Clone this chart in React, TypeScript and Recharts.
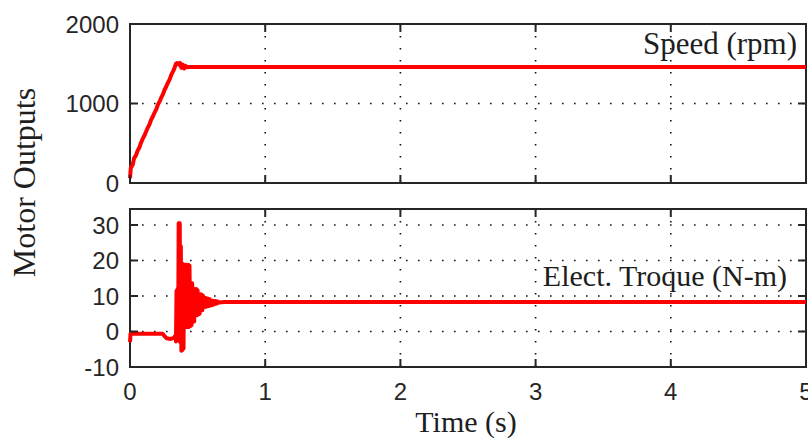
import { LineChart, Line, XAxis, YAxis, CartesianGrid, ReferenceArea } from 'recharts';

const timeTicks = [0, 1, 2, 3, 4, 5];
const speedTicks = [0, 1000, 2000];
const torqueTicks = [-10, 0, 10, 20, 30];

// speed (rpm)
const speedTime = [0, 0.006, 0.02, 0.03, 0.045, 0.055, 0.07, 0.08, 0.095, 0.105, 0.12, 0.13, 0.145, 0.155, 0.17, 0.18, 0.195, 0.205, 0.22, 0.23, 0.245, 0.255, 0.27, 0.28, 0.295, 0.305, 0.32, 0.33, 0.34, 0.35, 0.36, 0.37, 0.38, 0.39, 0.4, 0.41, 0.42, 0.44, 5];
const speedRpm = [60, 190, 230, 310, 350, 400, 450, 500, 560, 590, 650, 690, 740, 790, 840, 880, 930, 980, 1030, 1070, 1120, 1170, 1220, 1260, 1310, 1360, 1410, 1450, 1500, 1510, 1490, 1510, 1450, 1490, 1440, 1475, 1455, 1460, 1460];

// electromagnetic torque (N-m)
const torqueTime = [0, 0.004, 0.24, 0.255, 0.27, 0.3, 0.325, 0.335, 0.34, 0.344, 0.348, 0.352, 0.356, 0.36, 0.364, 0.368, 0.372, 0.376, 0.38, 0.384, 0.388, 0.392, 0.396, 0.4, 0.405, 0.41, 0.415, 0.42, 0.425, 0.43, 0.435, 0.44, 0.445, 0.45, 0.455, 0.46, 0.465, 0.47, 0.475, 0.48, 0.485, 0.49, 0.495, 0.5, 0.505, 0.51, 0.515, 0.52, 0.525, 0.53, 0.535, 0.54, 0.545, 0.55, 0.555, 0.56, 0.565, 0.57, 0.575, 0.58, 0.585, 0.59, 0.595, 0.6, 0.605, 0.61, 0.615, 0.62, 0.625, 0.63, 0.635, 0.64, 0.645, 0.65, 0.655, 0.7, 5];
const torqueNm = [-3, -0.6, -0.6, -1.3, -1.9, -2.1, -1.8, -1.2, -2.8, 11.5, -2.6, 12, -2, 30.5, 0, 30.5, -3, 24, -5.4, 19, -5.2, 19, -4.8, 18.8, 1.3, 18.8, 1.3, 18.8, 1.3, 18.8, 1.3, 18.6, 1.5, 13.6, 1.8, 13.6, 2.8, 12, 2.8, 12, 4.5, 12, 4.6, 11.6, 4.8, 10.5, 5, 10.5, 5.9, 10.4, 6, 10.1, 6.9, 9.5, 6.9, 9.4, 7, 9.3, 7.1, 9.2, 7.2, 9.1, 7.3, 8.7, 7.4, 8.7, 7.5, 8.6, 7.7, 8.6, 7.8, 8.5, 7.9, 8.4, 8.2, 8.3, 8.3];

const speedData = speedTime.map((t, i) => ({ t, v: speedRpm[i] }));
const torqueData = torqueTime.map((t, i) => ({ t, v: torqueNm[i] }));

const PLOT_W = 676;
const TICK_LEN = 8;
const AXIS_COLOR = '#262626';
const SANS = '"Liberation Sans", Arial, sans-serif';
const SERIF = '"Liberation Serif", "Times New Roman", serif';

const XTick = ({ x, y, payload, plotH, showLabel }: any) => (
  <g>
    <line x1={x} y1={y} x2={x} y2={y - TICK_LEN} stroke={AXIS_COLOR} strokeWidth={2} />
    <line x1={x} y1={y - plotH} x2={x} y2={y - plotH + TICK_LEN} stroke={AXIS_COLOR} strokeWidth={2} />
    {showLabel && (
      <text x={x} y={y + 33} textAnchor="middle" fontFamily={SANS} fontSize={24} fill="#262626">
        {payload.value}
      </text>
    )}
  </g>
);

const YTick = ({ x, y, payload }: any) => (
  <g>
    <line x1={x} y1={y} x2={x + TICK_LEN} y2={y} stroke={AXIS_COLOR} strokeWidth={2} />
    <line x1={x + PLOT_W} y1={y} x2={x + PLOT_W - TICK_LEN} y2={y} stroke={AXIS_COLOR} strokeWidth={2} />
    <text x={x - 11} y={y} dy="0.36em" textAnchor="end" fontFamily={SANS} fontSize={24} fill="#262626">
      {payload.value}
    </text>
  </g>
);

const gridProps = { stroke: '#111', strokeDasharray: '1.6 10.4', strokeWidth: 1.6 };

export default function App() {
  return (
    <div style={{ position: 'absolute', left: 0, top: 0, width: 808, height: 442, overflow: 'hidden', background: '#fff' }}>
      <div style={{ position: 'absolute', left: 0, top: 0 }}>
        <LineChart width={808} height={202} data={speedData} margin={{ top: 24, right: 2, bottom: 18, left: 0 }}>
          <CartesianGrid {...gridProps} />
          <XAxis dataKey="t" type="number" domain={[0, 5]} ticks={timeTicks} interval={0} height={1}
            axisLine={false} tickLine={false} tickSize={0} tickMargin={0}
            tick={(p: any) => <XTick {...p} plotH={159} showLabel={false} />} />
          <YAxis type="number" domain={[0, 2000]} ticks={speedTicks} interval={0} width={130}
            axisLine={false} tickLine={false} tickSize={0} tickMargin={0}
            tick={(p: any) => <YTick {...p} />} />
          <ReferenceArea x1={0} x2={5} y1={0} y2={2000} fill="none" stroke={AXIS_COLOR} strokeWidth={2} />
          <Line dataKey="v" type="linear" stroke="#ff0000" strokeWidth={4} strokeLinejoin="round" dot={false} isAnimationActive={false} />
        </LineChart>
      </div>
      <div style={{ position: 'absolute', left: 0, top: 190 }}>
        <LineChart width={808} height={252} data={torqueData} margin={{ top: 19, right: 2, bottom: 74, left: 0 }}>
          <CartesianGrid {...gridProps} />
          <XAxis dataKey="t" type="number" domain={[0, 5]} ticks={timeTicks} interval={0} height={1}
            axisLine={false} tickLine={false} tickSize={0} tickMargin={0}
            tick={(p: any) => <XTick {...p} plotH={158} showLabel />} />
          <YAxis type="number" domain={[-10, 34.5]} ticks={torqueTicks} interval={0} width={130}
            axisLine={false} tickLine={false} tickSize={0} tickMargin={0}
            tick={(p: any) => <YTick {...p} />} />
          <ReferenceArea x1={0} x2={5} y1={-10} y2={34.5} fill="none" stroke={AXIS_COLOR} strokeWidth={2} />
          <Line dataKey="v" type="linear" stroke="#ff0000" strokeWidth={4} strokeLinejoin="round" dot={false} isAnimationActive={false} />
        </LineChart>
      </div>
      <svg width={808} height={442} style={{ position: 'absolute', left: 0, top: 0, pointerEvents: 'none' }}>
        <text x={797} y={54} textAnchor="end" fontFamily={SERIF} fontSize={31} fill="#1e1e1e">Speed (rpm)</text>
        <text x={787} y={286} textAnchor="end" fontFamily={SERIF} fontSize={30} fill="#1e1e1e">Elect. Troque (N-m)</text>
        <text x={466} y={432} textAnchor="middle" fontFamily={SERIF} fontSize={30} fill="#1e1e1e">Time (s)</text>
        <text transform="translate(35,182.5) rotate(-90)" textAnchor="middle" fontFamily={SERIF} fontSize={32} fill="#1e1e1e">Motor Outputs</text>
      </svg>
    </div>
  );
}
